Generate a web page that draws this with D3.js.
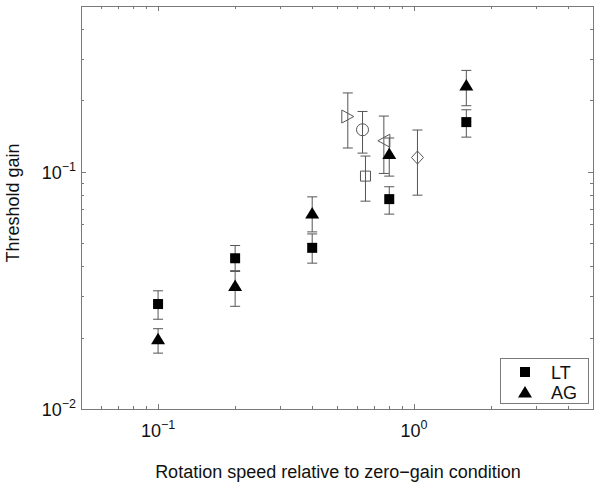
<!DOCTYPE html>
<html><head><meta charset="utf-8">
<script src="https://cdn.jsdelivr.net/npm/d3@7"></script>
<style>
html,body{margin:0;padding:0;background:#fff;}
svg{display:block;font-family:"Liberation Sans",Arial,Helvetica,sans-serif;}
</style></head>
<body><svg id="c" width="600" height="494"></svg>
<script>
// ---- data ----
const speeds = [0.1, 0.2, 0.4, 0.8, 1.6];
const ltY  = [0.0277, 0.0432, 0.0478, 0.0767, 0.162];
const ltLo = [0.0239, 0.0383, 0.0412, 0.0663, 0.140];
const ltHi = [0.0315, 0.0489, 0.0547, 0.0865, 0.1826];
const agY  = [0.0198, 0.0332, 0.0671, 0.1195, 0.2321];
const agLo = [0.0172, 0.0271, 0.0558, 0.0959, 0.1899];
const agHi = [0.0218, 0.0380, 0.0784, 0.1388, 0.2676];
const openShapes = ["triangle-right", "circle", "square", "triangle-left", "diamond"];
const openX  = [0.551, 0.629, 0.646, 0.762, 1.031];
const openY  = [0.171, 0.1504, 0.0959, 0.1352, 0.1149];
const openLo = [0.126, 0.1199, 0.0752, 0.0984, 0.0797];
const openHi = [0.215, 0.1796, 0.1165, 0.1718, 0.150];
const xMajor = [0.1, 1];
const yMajor = [0.01, 0.1];
const xMajorExp = ["-1", "0"];
const yMajorExp = ["-2", "-1"];
const legendLabels = ["LT", "AG"];
const xTitle = "Rotation speed relative to zero\u2212gain condition";
const yTitle = "Threshold gain";

// ---- layout ----
const L = 81, R = 593, T = 6, B = 409;
const x = d3.scaleLog().domain([0.05, 5]).range([L, R]);
const y = d3.scaleLog().domain([0.01, 0.5]).range([B, T]);
const svg = d3.select("#c");
const axisCol = "#7a7a7a", barCol = "#555";
const FS = 18;

// minor ticks
function minors(lo, hi) {
  const out = [];
  for (let e = Math.floor(Math.log10(lo)); e <= Math.ceil(Math.log10(hi)); e++) {
    for (let m = 1; m <= 9; m++) {
      const v = m * Math.pow(10, e);
      if (v >= lo * 0.9999 && v <= hi * 1.0001) out.push({v, major: m === 1});
    }
  }
  return out;
}
const g = svg.append("g").attr("stroke", axisCol).attr("stroke-width", 1).attr("fill", "none");
minors(0.05, 5).forEach(t => {
  const px = Math.round(x(t.v)) + 0.5, len = t.major ? 5 : 3;
  g.append("line").attr("x1", px).attr("x2", px).attr("y1", B).attr("y2", B - len);
  g.append("line").attr("x1", px).attr("x2", px).attr("y1", T).attr("y2", T + len);
});
minors(0.01, 0.5).forEach(t => {
  const py = Math.round(y(t.v)) + 0.5, len = t.major ? 5 : 3;
  g.append("line").attr("y1", py).attr("y2", py).attr("x1", L).attr("x2", L + len);
  g.append("line").attr("y1", py).attr("y2", py).attr("x1", R).attr("x2", R - len);
});
g.append("rect").attr("x", L + 0.5).attr("y", T + 0.5).attr("width", R - L).attr("height", B - T);

// tick labels
xMajor.forEach((v, i) => {
  const t = svg.append("text").attr("x", x(v)).attr("y", 437).attr("text-anchor", "middle")
    .attr("font-size", FS).attr("fill", "#111");
  t.append("tspan").text("10");
  t.append("tspan").attr("dy", -8).attr("font-size", 12.5).text(xMajorExp[i].replace("-", "\u2212"));
});
yMajor.forEach((v, i) => {
  const t = svg.append("text").attr("x", 76).attr("y", y(v) + 7).attr("text-anchor", "end")
    .attr("font-size", FS).attr("fill", "#111");
  t.append("tspan").text("10");
  t.append("tspan").attr("dy", -8).attr("font-size", 12.5).text(yMajorExp[i].replace("-", "\u2212"));
});

// titles
svg.append("text").attr("x", (L + R) / 2 + 1).attr("y", 478).attr("text-anchor", "middle")
  .attr("font-size", FS).attr("fill", "#111").text(xTitle);
svg.append("text").attr("transform", "translate(19,203) rotate(-90)").attr("text-anchor", "middle")
  .attr("font-size", FS).attr("fill", "#111").text(yTitle);

// error bars
function errBar(xv, lo, hi) {
  const px = x(xv), cap = 5;
  const eg = svg.append("g").attr("stroke", barCol).attr("stroke-width", 1);
  eg.append("line").attr("x1", px).attr("x2", px).attr("y1", y(lo)).attr("y2", y(hi));
  eg.append("line").attr("x1", px - cap).attr("x2", px + cap).attr("y1", y(lo)).attr("y2", y(lo));
  eg.append("line").attr("x1", px - cap).attr("x2", px + cap).attr("y1", y(hi)).attr("y2", y(hi));
}
speeds.forEach((s, i) => { errBar(s, ltLo[i], ltHi[i]); errBar(s, agLo[i], agHi[i]); });
openX.forEach((s, i) => errBar(s, openLo[i], openHi[i]));

// marker paths
function markerPath(shape) {
  switch (shape) {
    case "square": return "M-5,-5H5V5H-5Z";
    case "osquare": return "M-5,-5H5V5H-5Z";
    case "triangle-up": return "M0,-6L7,5.5H-7Z";
    case "triangle-right": return "M6,0L-6,6.5V-6.5Z";
    case "triangle-left": return "M-6,0L6,6.5V-6.5Z";
    case "diamond": return "M0,-6.5L6,0L0,6.5L-6,0Z";
    case "circle": return "M6,0A6,6 0 1,1 -6,0A6,6 0 1,1 6,0Z";
  }
}
speeds.forEach((s, i) => {
  svg.append("path").attr("d", markerPath("square")).attr("fill", "#000")
    .attr("transform", `translate(${x(s)},${y(ltY[i])})`);
  svg.append("path").attr("d", markerPath("triangle-up")).attr("fill", "#000")
    .attr("transform", `translate(${x(s)},${y(agY[i])})`);
});
openX.forEach((s, i) => {
  const sh = openShapes[i] === "square" ? "osquare" : openShapes[i];
  svg.append("path").attr("d", markerPath(sh)).attr("fill", "none").attr("stroke", barCol)
    .attr("stroke-width", 1).attr("transform", `translate(${x(s)},${y(openY[i])})`);
});

// legend
const lg = svg.append("g");
lg.append("rect").attr("x", 500.5).attr("y", 358.5).attr("width", 88).attr("height", 45)
  .attr("fill", "#fff").attr("stroke", axisCol);
["square", "triangle-up"].forEach((sh, i) => {
  const cy = 372 + i * 20;
  lg.append("path").attr("d", markerPath(sh)).attr("fill", "#000").attr("transform", `translate(525,${cy})`);
  lg.append("text").attr("x", 551).attr("y", cy + 6.5).attr("font-size", FS).attr("fill", "#111").text(legendLabels[i]);
});
</script></body></html>
